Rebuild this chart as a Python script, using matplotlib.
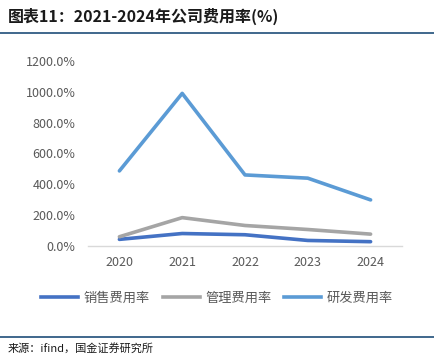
import matplotlib
matplotlib.use("Agg")
import matplotlib.pyplot as plt
from matplotlib.lines import Line2D

plt.rcParams['font.family'] = ['Noto Sans CJK SC', 'DejaVu Sans']

years = ['2020', '2021', '2022', '2023', '2024']
sales_rate = [43, 81, 73, 36, 28]
admin_rate = [60, 184, 133, 107, 77]
rd_rate = [487, 990, 461, 440, 299]
series_names = ['销售费用率', '管理费用率', '研发费用率']
y_ticks = [0, 200, 400, 600, 800, 1000, 1200]

colors = ['#4472C4', '#A5A5A5', '#5B9BD5']

W, H = 434, 357
fig = plt.figure(figsize=(W / 100, H / 100), dpi=100)
ax = fig.add_axes([88 / W, 1 - 246 / H, (402 - 88) / W, (246 - 61) / H])

x = list(range(len(years)))
for vals, c, name in zip([sales_rate, admin_rate, rd_rate], colors, series_names):
    ax.plot(x, vals, color=c, lw=2.6, solid_capstyle='round', label=name)

ax.set_xlim(-0.5, len(years) - 0.5)
ax.set_ylim(0, 1200)
ax.set_yticks(y_ticks)
ax.set_yticklabels([f'{v:.1f}%' for v in y_ticks])
ax.set_xticks(x)
ax.set_xticklabels(years)
for s in ['top', 'right', 'left']:
    ax.spines[s].set_visible(False)
ax.spines['bottom'].set_color('#D9D9D9')
ax.spines['bottom'].set_linewidth(1)
ax.tick_params(axis='both', length=0, labelsize=9, colors='#595959')
ax.tick_params(axis='y', pad=9)
ax.tick_params(axis='x', pad=7)

handles = [Line2D([0], [0], color=c, lw=2.6) for c in colors]
fig.legend(handles, series_names, loc='center', bbox_to_anchor=(0.5, 1 - 298 / H),
           ncol=3, frameon=False, fontsize=9.5, handlelength=2.8, handletextpad=0.4,
           columnspacing=1.0, labelcolor='#595959')

# title and decorations
fig.text(8 / W, 1 - 16 / H, '图表11：2021-2024年公司费用率(%)', fontsize=11.5,
         fontweight='bold', color='#1a1a1a', va='center', ha='left')
fig.add_artist(Line2D([0, 1], [1 - 33 / H, 1 - 33 / H], color='#1F4E79', lw=1.2,
                      transform=fig.transFigure))
fig.add_artist(Line2D([0, 1], [1 - 337 / H, 1 - 337 / H], color='#1F4E79', lw=1.2,
                      transform=fig.transFigure))
fig.text(8 / W, 1 - 348 / H, '来源：ifind，国金证券研究所', fontsize=8,
         color='#1a1a1a', va='center', ha='left')

fig.savefig('out.png', dpi=100)
